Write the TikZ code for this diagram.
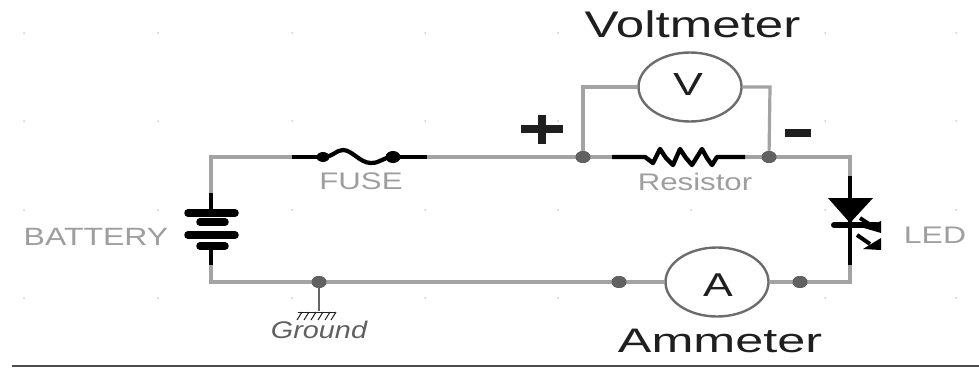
\documentclass[tikz,border=0pt]{standalone}
\usepackage{fontspec}
\setmainfont{Liberation Sans}
\usetikzlibrary{shapes.geometric}
\definecolor{wirec}{gray}{0.64}
\definecolor{labelc}{gray}{0.62}
\definecolor{dotc}{gray}{0.38}
\definecolor{inkc}{gray}{0.12}
\newcommand{\stretchtext}[3]{\fontsize{#1}{#1}\selectfont\scalebox{#2}[1]{#3}}
\tikzset{
  wire/.style={draw=wirec,line width=3.2pt},
  part/.style={draw=black,line width=4.4pt},
  plate/.style={draw=black,line width=7.5pt,line cap=round},
  junction/.style={ellipse,fill=dotc,minimum width=15pt,minimum height=12pt,inner sep=0pt},
  griddot/.style={circle,fill=gray!70,minimum size=1.5pt,inner sep=0pt},
  meter/.style={ellipse,draw=gray!85!black,line width=2.4pt,fill=white,minimum width=103pt,minimum height=69pt,inner sep=0pt},
  txt/.style={inner sep=0pt,anchor=base},
}
\begin{document}
\begin{tikzpicture}[x=1pt,y=-1pt]
\useasboundingbox (0,0) rectangle (979,367);
% faint grid
\foreach \gx in {24,158,292,425,558,691,825,956}
  \foreach \gy in {33,121,210,298}
    \node[griddot] at (\gx,\gy) {};
% corners and terminals
\coordinate (tl) at (211,157);
\coordinate (bl) at (211,282);
\coordinate (tr) at (850,157);
\coordinate (br) at (850,282);
\coordinate (vl) at (583,87);
\coordinate (vr) at (770,87);
\coordinate (fa) at (292,157);
\coordinate (fb) at (427,157);
\coordinate (fc) at (323,157);
\coordinate (fd) at (393,157);
\coordinate (ra) at (612,157);
\coordinate (rb) at (745,157);
\coordinate (bt) at (211,193);
\coordinate (bb) at (211,265);
\coordinate (lt) at (850,176);
\coordinate (lb) at (850,265);
\coordinate (gs) at (319,311);
% junctions
\node[junction] (jp) at (583,157) {};
\node[junction] (jm) at (769,157) {};
\node[junction] (jg) at (319,282) {};
\node[junction] (ja) at (619,282) {};
\node[junction] (jb) at (800,282) {};
% meters
\node[meter] (vm) at (690,87) {};
\node[meter] (am) at (717,282) {};
% wires
\draw[wire,line join=miter] (bt) -- (tl) -- (fa);
\draw[wire] (fb) -- (ra);
\draw[wire] (rb) -- (tr) -- (lt);
\draw[wire] (bb) -- (bl) -- (am.west);
\draw[wire] (am.east) -- (br) -- (lb);
\draw[wire] (jp.center) -- (vl) -- (vm.west);
\draw[wire] (jm.center) -- (vr) -- (vm.east);
\draw[draw=gray!80!black,line width=2.4pt] (jg.center) -- (gs);
% redraw junctions above wires
\foreach \j in {jp,jm,jg,ja,jb} \fill[dotc] (\j) ellipse (7.5pt and 6pt);
% fuse
\draw[part] (fa) -- (fc);
\draw[part] (fd) -- (fb);
\draw[black,line width=4.2pt] (fc) .. controls (333,157) and (336,150) .. (343,150)
   .. controls (352,150) and (360,163) .. (371,163)
   .. controls (381,163) and (383,157) .. (fd);
\fill[black] (fc) ellipse (6.5pt and 5pt);
\fill[black] (fd) ellipse (7.5pt and 6pt);
% resistor
\draw[black,line width=4.4pt,line join=round] (ra) -- (645,157) -- (653,163) -- (660,149) -- (666,158) -- (673,165) -- (680,149) -- (686,158) -- (692,165) -- (702,149) -- (707,158) -- (712,165) -- (717,157) -- (rb);
% battery
\draw[part] (bt) -- (211,213);
\draw[part] (211,246) -- (bb);
\draw[plate] (188,213) -- (235,213);
\draw[plate] (200,222) -- (225,222);
\draw[plate] (188,235) -- (235,235);
\draw[plate] (200,246) -- (225,246);
% ground symbol
\draw[inkc,line width=1pt] (298,312) -- (335,312);
\foreach \hx in {302,309,316,323,330,336}
  \draw[inkc,line width=1pt] (\hx,312) -- (\hx-5,320);
% LED
\draw[part] (lt) -- (lb);
\fill[black] (828,198) -- (873,198) -- (850,223) -- cycle;
\draw[black,line width=6pt,line cap=round] (834,225) -- (876,225);
\draw[black,line width=4pt] (860,218) -- (872,226);
\fill[black] (864,228) -- (881,221) -- (881,233) -- cycle;
\draw[black,line width=4pt] (857,235) -- (870,244);
\fill[black] (863,249) -- (881,238) -- (881,250) -- cycle;
% polarity
\fill[inkc] (521,125) rectangle (563,133);
\fill[inkc] (538,115) rectangle (546,144);
\fill[inkc] (785,129) rectangle (811,137);
% bottom rule
\draw[gray!60!black,line width=2.2pt] (12,366) -- (979,366);
% labels
\node[txt,text=inkc] (tv) at (692.5,37) {\stretchtext{37}{1.38}{Voltmeter}};
\node[txt,text=inkc] (ta) at (720,352) {\stretchtext{34}{1.48}{Ammeter}};
\node[txt,text=inkc] (lv) at (688,95) {\stretchtext{32}{1.4}{V}};
\node[txt,text=inkc] (la) at (718,296) {\stretchtext{33}{1.35}{A}};
\node[txt,text=labelc] (tf) at (361,189) {\stretchtext{24}{1.3}{FUSE}};
\node[txt,text=labelc] (tr2) at (695,190) {\stretchtext{24}{1.3}{Resistor}};
\node[txt,text=labelc] (tb) at (96,245) {\stretchtext{25}{1.28}{BATTERY}};
\node[txt,text=labelc] (tl2) at (935,243) {\stretchtext{24}{1.33}{LED}};
\node[txt,text=gray!75!black] (tg) at (319,338) {\stretchtext{24}{1.2}{\itshape Ground}};
\end{tikzpicture}
\end{document}
